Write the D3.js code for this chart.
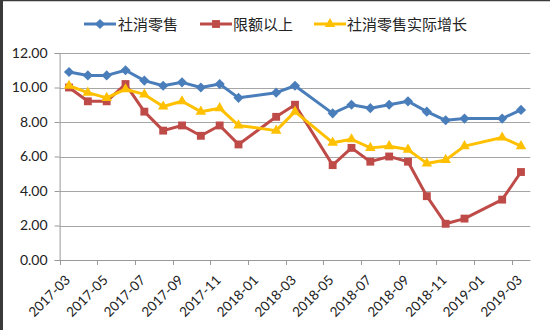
<!DOCTYPE html>
<html><head><meta charset="utf-8">
<script src="https://cdn.jsdelivr.net/npm/d3@7"></script>
<style>
html,body{margin:0;padding:0;background:#fff;}
svg{display:block;}
</style></head>
<body>
<svg id="chart" width="550" height="330"></svg>
<script>
const months = ["2017-03","2017-04","2017-05","2017-06","2017-07","2017-08","2017-09","2017-10","2017-11","2017-12",
"2018-01","2018-02","2018-03","2018-04","2018-05","2018-06","2018-07","2018-08","2018-09","2018-10","2018-11","2018-12",
"2019-01","2019-02","2019-03"];
const seriesNames = ["社消零售","限额以上","社消零售实际增长"];
const retail = [10.9,10.7,10.7,11.0,10.4,10.1,10.3,10.0,10.2,9.4,null,9.7,10.1,null,8.5,9.0,8.8,9.0,9.2,8.6,8.1,8.2,null,8.2,8.7];
const aboveLimit = [10.0,9.2,9.2,10.2,8.6,7.5,7.8,7.2,7.8,6.7,null,8.3,9.0,null,5.5,6.5,5.7,6.0,5.7,3.7,2.1,2.4,null,3.5,5.1];
const realGrowth = [10.1,9.7,9.4,9.9,9.6,8.9,9.2,8.6,8.8,7.8,null,7.5,8.6,null,6.8,7.0,6.5,6.6,6.4,5.6,5.8,6.6,null,7.1,6.6];
const yTicks = [0,2,4,6,8,10,12];
const xTickLabels = months.filter((m,i)=>i%2===0);

const colors = ["#4A7EBB","#BE4B48","#FFC000"];
// marker shapes: diamond = rotated square
const markerTypes = [d3.symbolSquare, d3.symbolSquare, d3.symbolTriangle];
const markerRot = [45, 0, 0];
const markerSizes = [52, 62, 48];

const svg = d3.select("#chart");
svg.append("rect").attr("x",0).attr("y",0).attr("width",550).attr("height",330).attr("fill","#fff");
svg.append("line").attr("x1",1.5).attr("x2",1.5).attr("y1",0).attr("y2",330).attr("stroke","#3a3a3a").attr("stroke-width",3);
svg.append("line").attr("x1",0).attr("x2",550).attr("y1",0.5).attr("y2",0.5).attr("stroke","#3a3a3a").attr("stroke-width",1.5);

const pLeft = 59.6, pRight = 530.4, pTop = 53, pBottom = 260;
const x = d3.scaleBand().domain(months).range([pLeft, pRight]);
const y = d3.scaleLinear().domain([0,12]).range([pBottom, pTop]);
const cx = m => x(m) + x.bandwidth()/2;

svg.append("g").selectAll("line").data(yTicks.filter(t=>t>0)).join("line")
  .attr("x1", pLeft).attr("x2", pRight)
  .attr("y1", d=>Math.round(y(d))+0.5).attr("y2", d=>Math.round(y(d))+0.5)
  .attr("stroke","#A6A6A6").attr("stroke-width",1);

const yAxis = svg.append("g").attr("transform",`translate(${pLeft},0)`)
  .call(d3.axisLeft(y).tickValues(yTicks).tickFormat(d3.format(".2f")).tickSize(5));
yAxis.select(".domain").attr("stroke","#999");
yAxis.selectAll(".tick line").attr("stroke","#999");
yAxis.selectAll("text").attr("font-family","Lato, 'Open Sans', sans-serif").attr("font-size","14px").attr("fill","#222").attr("dx","-4");

const xg = svg.append("g").attr("transform",`translate(0,${pBottom})`);
xg.append("line").attr("x1",pLeft).attr("x2",pRight).attr("y1",0.5).attr("y2",0.5).attr("stroke","#999");
xg.selectAll("line.tk").data(xTickLabels).join("line").attr("class","tk")
  .attr("x1",d=>Math.round(x(d))+0.5).attr("x2",d=>Math.round(x(d))+0.5)
  .attr("y1",0).attr("y2",5).attr("stroke","#999");
xg.selectAll("text").data(xTickLabels).join("text")
  .attr("transform",d=>`translate(${cx(d)+2},${21}) rotate(-45)`)
  .attr("text-anchor","end")
  .attr("font-family","Lato, 'Open Sans', sans-serif").attr("font-size","13.5px").attr("fill","#222")
  .text(d=>d);

const allSeries = [retail, aboveLimit, realGrowth];
allSeries.forEach((vals, si) => {
  const pts = months.map((m,i)=>({m, v: vals[i]})).filter(d=>d.v!==null);
  const line = d3.line().x(d=>cx(d.m)).y(d=>y(d.v));
  svg.append("path").datum(pts).attr("d", line).attr("fill","none")
    .attr("stroke", colors[si]).attr("stroke-width", 3).attr("stroke-linejoin","round");
  svg.append("g").selectAll("path").data(pts).join("path")
    .attr("d", d3.symbol().type(markerTypes[si]).size(markerSizes[si]))
    .attr("transform", d=>`translate(${cx(d.m)},${y(d.v)}) rotate(${markerRot[si]})`)
    .attr("fill", colors[si]);
});

const legendItems = [{x:84, tx:118},{x:200, tx:233},{x:314, tx:347}];
const lg = svg.append("g");
seriesNames.forEach((name, si) => {
  const it = legendItems[si];
  lg.append("line").attr("x1", it.x).attr("x2", it.x+32).attr("y1",24).attr("y2",24)
    .attr("stroke", colors[si]).attr("stroke-width",3);
  lg.append("path").attr("d", d3.symbol().type(markerTypes[si]).size(markerSizes[si]))
    .attr("transform",`translate(${it.x+16},24) rotate(${markerRot[si]})`).attr("fill", colors[si]);
  lg.append("text").attr("x", it.tx).attr("y", 29.5)
    .attr("font-family","'Noto Sans CJK SC', sans-serif").attr("font-size","15px").attr("fill","#222")
    .text(name);
});
</script>
</body></html>
